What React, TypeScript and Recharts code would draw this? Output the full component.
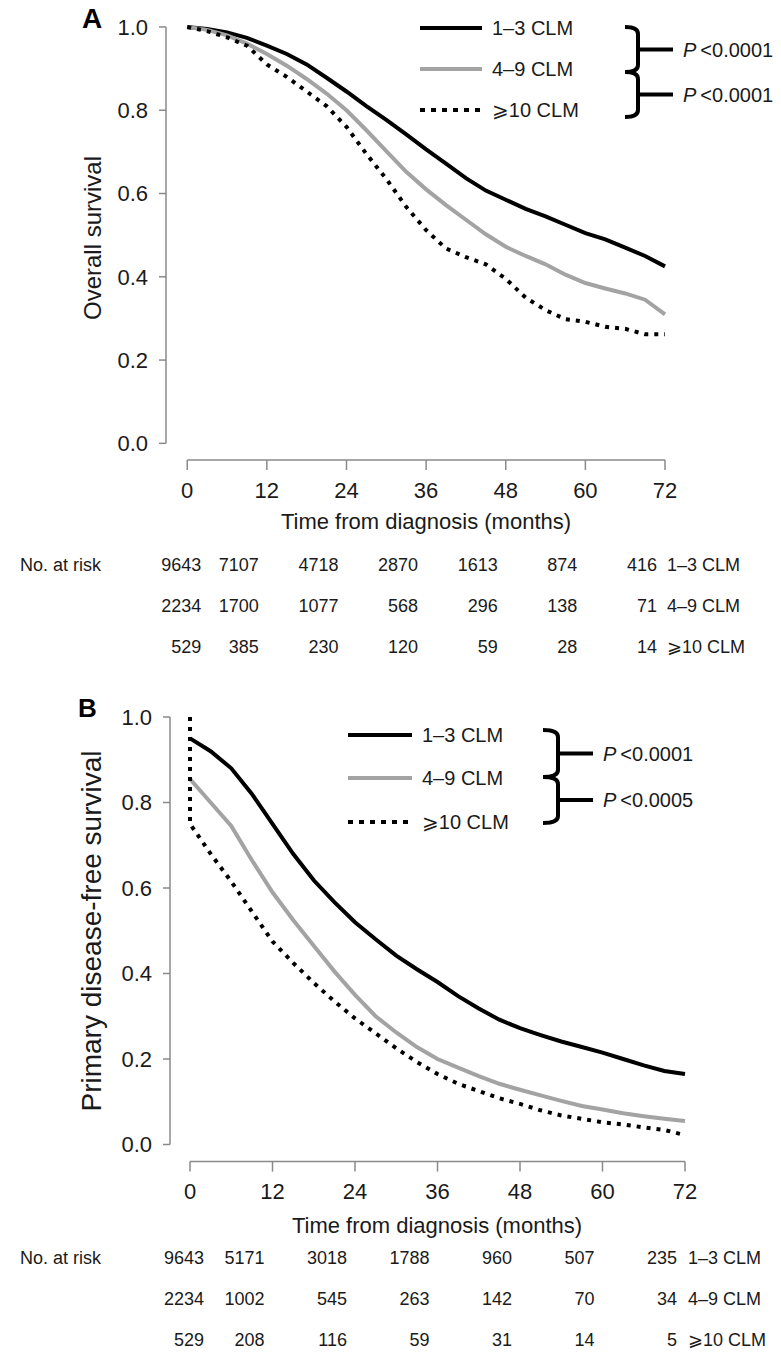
import React from 'react';
import { LineChart, Line, XAxis, YAxis, ReferenceLine } from 'recharts';

const FONT = '"Liberation Sans", Arial, Helvetica, "DejaVu Sans", sans-serif';
const TEXT = '#1a1a1a';
const AXIS = '#8a8a8a';
const GRAY = '#a3a3a3';

const months = [0, 3, 6, 9, 12, 15, 18, 21, 24, 27, 30, 33, 36, 39, 42, 45, 48, 51, 54, 57, 60, 63, 66, 69, 72];
const xTicks = [0, 12, 24, 36, 48, 60, 72];
const yTicks = [0, 0.2, 0.4, 0.6, 0.8, 1.0];
const groupLabels = ['1–3 CLM', '4–9 CLM', '⩾10 CLM'];

// Panel A: overall survival
const osA_1to3 = [1.0, 0.995, 0.987, 0.974, 0.955, 0.935, 0.91, 0.878, 0.845, 0.81, 0.777, 0.742, 0.706, 0.672, 0.637, 0.607, 0.585, 0.563, 0.545, 0.525, 0.505, 0.49, 0.47, 0.45, 0.425];
const osA_4to9 = [1.0, 0.993, 0.98, 0.96, 0.935, 0.907, 0.875, 0.84, 0.8, 0.752, 0.702, 0.652, 0.61, 0.572, 0.537, 0.502, 0.472, 0.45, 0.43, 0.405, 0.385, 0.372, 0.36, 0.345, 0.31];
const osA_10plus = [1.0, 0.99, 0.975, 0.955, 0.91, 0.88, 0.845, 0.81, 0.76, 0.695, 0.635, 0.568, 0.512, 0.468, 0.447, 0.43, 0.395, 0.35, 0.32, 0.298, 0.292, 0.28, 0.275, 0.262, 0.262];

// Panel B: primary disease-free survival
const pdfsB_1to3 = [0.95, 0.92, 0.88, 0.82, 0.75, 0.68, 0.618, 0.567, 0.52, 0.48, 0.442, 0.41, 0.38, 0.347, 0.318, 0.292, 0.272, 0.256, 0.241, 0.228, 0.215, 0.2, 0.185, 0.172, 0.165];
const pdfsB_4to9 = [0.855, 0.8, 0.745, 0.665, 0.59, 0.525, 0.465, 0.405, 0.35, 0.3, 0.262, 0.228, 0.2, 0.18, 0.16, 0.142, 0.128, 0.115, 0.102, 0.09, 0.082, 0.073, 0.066, 0.06, 0.055];
const pdfsB_10plus = [0.75, 0.68, 0.615, 0.545, 0.475, 0.425, 0.378, 0.335, 0.295, 0.26, 0.225, 0.193, 0.165, 0.142, 0.125, 0.108, 0.095, 0.08, 0.068, 0.06, 0.052, 0.047, 0.04, 0.034, 0.022];
const pdfsB_10plusStart = 1.0;

// Numbers at risk
const riskA_1to3 = [9643, 7107, 4718, 2870, 1613, 874, 416];
const riskA_4to9 = [2234, 1700, 1077, 568, 296, 138, 71];
const riskA_10plus = [529, 385, 230, 120, 59, 28, 14];
const riskB_1to3 = [9643, 5171, 3018, 1788, 960, 507, 235];
const riskB_4to9 = [2234, 1002, 545, 263, 142, 70, 34];
const riskB_10plus = [529, 208, 116, 59, 31, 14, 5];

const pA = ['<0.0001', '<0.0001'];
const pB = ['<0.0001', '<0.0005'];

const toPts = (vals: number[], start?: number) => {
  const pts = months.map((t, i) => ({ t, s: vals[i] }));
  return start !== undefined ? [{ t: 0, s: start }, ...pts] : pts;
};

const styles = [
  { stroke: '#000', dash: undefined as string | undefined },
  { stroke: GRAY, dash: undefined as string | undefined },
  { stroke: '#000', dash: '4 6' },
];

type PanelProps = {
  top: number;
  height: number;
  marginTop: number;
  marginBottom: number;
  plotLeft: number;
  plotRight: number;
  xMin: number;
  series: { t: number; s: number }[][];
};

function KMPanel({ top, height, marginTop, marginBottom, plotLeft, plotRight, xMin, series }: PanelProps) {
  const tickStyle = { fill: TEXT, fontSize: 22, fontFamily: FONT };
  return (
    <div style={{ position: 'absolute', left: 0, top, width: 781, height }}>
      <LineChart width={781} height={height} margin={{ top: marginTop, right: 781 - plotRight, bottom: marginBottom, left: 0 }}>
        <XAxis
          dataKey="t"
          type="number"
          domain={[xMin, 72]}
          ticks={xTicks}
          interval={0}
          axisLine={false}
          tickLine={{ stroke: AXIS, strokeWidth: 1.5 }}
          tickSize={10}
          tickMargin={12}
          height={50}
          tick={tickStyle}
        />
        <YAxis
          type="number"
          domain={[-0.04, 1.04]}
          ticks={yTicks}
          interval={0}
          tickFormatter={(v: number) => v.toFixed(1)}
          width={plotLeft}
          axisLine={false}
          tickLine={{ stroke: AXIS, strokeWidth: 1.5 }}
          tickSize={7}
          tickMargin={11}
          tick={tickStyle}
        />
        <ReferenceLine segment={[{ x: xMin, y: 0 }, { x: xMin, y: 1 }]} stroke={AXIS} strokeWidth={1.5} ifOverflow="visible" />
        <ReferenceLine segment={[{ x: 0, y: -0.04 }, { x: 72, y: -0.04 }]} stroke={AXIS} strokeWidth={1.5} ifOverflow="visible" />
        {series.map((d, i) => (
          <Line
            key={i}
            data={d}
            dataKey="s"
            type="linear"
            dot={false}
            activeDot={false}
            isAnimationActive={false}
            stroke={styles[i].stroke}
            strokeWidth={4}
            strokeDasharray={styles[i].dash}
            strokeLinecap="butt"
          />
        ))}
      </LineChart>
    </div>
  );
}

type LegendProps = { x1: number; x2: number; ys: number[]; textX: number };
function LegendBlock({ x1, x2, ys, textX }: LegendProps) {
  return (
    <g>
      {ys.map((y, i) => (
        <g key={i}>
          <line x1={x1} x2={x2} y1={y} y2={y} stroke={styles[i].stroke} strokeWidth={4} strokeDasharray={i === 2 ? '5 6' : undefined} />
          <text x={textX} y={y + 7} fontSize={20} fontFamily={FONT} fill={TEXT}>{groupLabels[i]}</text>
        </g>
      ))}
    </g>
  );
}

type BraceProps = { xl: number; xv: number; xr: number; top: number; mid: number; bot: number; pTexts: string[] };
function Braces({ xl, xv, xr, top, mid, bot, pTexts }: BraceProps) {
  const half = (y1: number, y2: number) =>
    `M ${xl} ${y1} Q ${xv} ${y1} ${xv} ${y1 + 7} L ${xv} ${y2 - 7} Q ${xv} ${y2} ${xl} ${y2}`;
  const a1 = (top + mid) / 2;
  const a2 = (mid + bot) / 2;
  return (
    <g fill="none" stroke="#000" strokeWidth={4}>
      <path d={half(top, mid)} />
      <path d={half(mid, bot)} />
      <line x1={xv} x2={xr} y1={a1} y2={a1} />
      <line x1={xv} x2={xr} y1={a2} y2={a2} />
      {[a1, a2].map((y, i) => (
        <text key={i} x={xr + 10} y={y + 7} fontSize={20} fontFamily={FONT} fill={TEXT} stroke="none">
          <tspan fontStyle="italic">P</tspan>
          <tspan dx={4}>{pTexts[i]}</tspan>
        </text>
      ))}
    </g>
  );
}

type RiskProps = { rows: number[][]; ys: number[]; xOf: (t: number) => number; labelX: number };
function RiskTable({ rows, ys, xOf, labelX }: RiskProps) {
  const fs = 18;
  return (
    <g fontFamily={FONT} fontSize={fs} fill={TEXT}>
      <text x={20} y={ys[0] + 6}>No. at risk</text>
      {rows.map((r, ri) => (
        <g key={ri}>
          {r.map((n, ci) => (
            <text key={ci} x={ci === 0 ? xOf(xTicks[ci]) + 14 : xOf(xTicks[ci]) - 8} y={ys[ri] + 6} textAnchor="end">{n}</text>
          ))}
          <text x={labelX} y={ys[ri] + 6}>{groupLabels[ri]}</text>
        </g>
      ))}
    </g>
  );
}

export default function App() {
  const xMinA = -3.2;
  const xMinB = -2.91;
  const xA = (t: number) => 166 + ((t - xMinA) / (72 - xMinA)) * (665 - 166);
  const xB = (t: number) => 170 + ((t - xMinB) / (72 - xMinB)) * (685 - 170);

  const seriesA = [toPts(osA_1to3), toPts(osA_4to9), toPts(osA_10plus)];
  const seriesB = [toPts(pdfsB_1to3), toPts(pdfsB_4to9), toPts(pdfsB_10plus, pdfsB_10plusStart)];

  return (
    <div style={{ position: 'absolute', left: 0, top: 0, width: 781, height: 1366, background: '#fff', overflow: 'hidden' }}>
      <KMPanel top={0} height={520} marginTop={10.3} marginBottom={10} plotLeft={166} plotRight={665} xMin={xMinA} series={seriesA} />
      <KMPanel top={680} height={540} marginTop={19.9} marginBottom={8.4} plotLeft={170} plotRight={685} xMin={xMinB} series={seriesB} />
      <svg width={781} height={1366} style={{ position: 'absolute', left: 0, top: 0, pointerEvents: 'none' }}>
        {/* Panel letters */}
        <text x={82} y={28} fontSize={28} fontWeight="bold" fontFamily={FONT} fill="#000">A</text>
        <text x={78} y={717} fontSize={26} fontWeight="bold" fontFamily={FONT} fill="#000">B</text>

        {/* Axis titles */}
        <text x={426} y={529} fontSize={22} fontFamily={FONT} fill={TEXT} textAnchor="middle">Time from diagnosis (months)</text>
        <text x={437} y={1233} fontSize={22} fontFamily={FONT} fill={TEXT} textAnchor="middle">Time from diagnosis (months)</text>
        <text transform="translate(101 238) rotate(-90)" fontSize={24} fontFamily={FONT} fill={TEXT} textAnchor="middle">Overall survival</text>
        <text transform="translate(101 931) rotate(-90)" fontSize={28} fontFamily={FONT} fill={TEXT} textAnchor="middle">Primary disease-free survival</text>

        {/* Legends */}
        <LegendBlock x1={420} x2={482} ys={[28, 69, 110]} textX={492} />
        <Braces xl={625} xv={638} xr={673} top={27} mid={72} bot={117} pTexts={pA} />
        <LegendBlock x1={348} x2={412} ys={[735, 778, 822]} textX={422} />
        <Braces xl={543} xv={558} xr={593} top={730} mid={777} bot={823} pTexts={pB} />

        {/* Risk tables */}
        <RiskTable rows={[riskA_1to3, riskA_4to9, riskA_10plus]} ys={[565, 606, 647]} xOf={xA} labelX={667} />
        <RiskTable rows={[riskB_1to3, riskB_4to9, riskB_10plus]} ys={[1258, 1299, 1340]} xOf={xB} labelX={688} />
      </svg>
    </div>
  );
}
